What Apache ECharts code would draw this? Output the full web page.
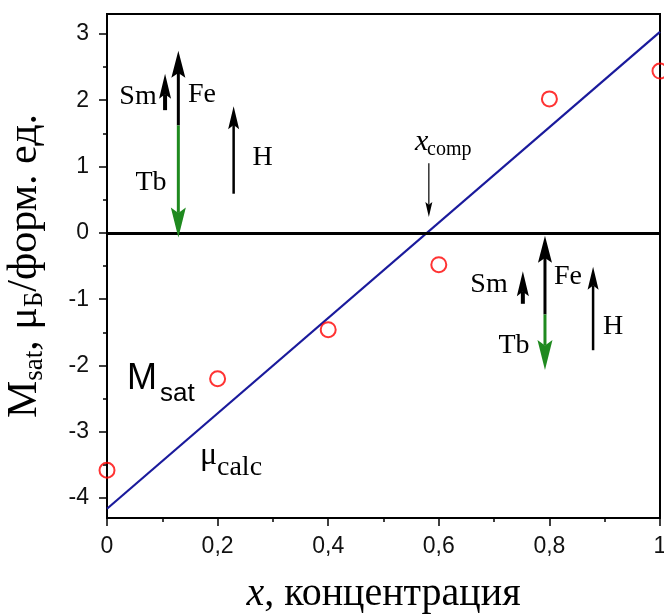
<!DOCTYPE html>
<html><head><meta charset="utf-8">
<script src="https://cdn.jsdelivr.net/npm/echarts@6/dist/echarts.min.js"></script>
<style>html,body{margin:0;padding:0;background:#fff}#chart{width:664px;height:616px}</style>
</head><body><div id="chart"></div>
<script>
// Concentration and measured saturation magnetisation (μB per formula unit)
const concX = [0, 0.2, 0.4, 0.6, 0.8, 1.0];
const msatY = [-3.58, -2.20, -1.46, -0.48, 2.02, 2.44];

// Calculated moment, a straight line across the range
const calcX = [0, 1];
const calcY = [-4.16, 3.03];

// Sublattice moment arrows: x position, tail value, tip value, kind
const momentX    = [0.129, 0.129, 0.105, 0.229, 0.792, 0.792, 0.752, 0.879, 0.582];
const momentFrom = [1.62, 1.62, 1.85, 0.59, -1.23, -1.23, -1.07, -1.77, 1.05];
const momentTo   = [2.745, -0.07, 2.40, 1.91, -0.045, -2.07, -0.58, -0.51, 0.24];
const momentKind = ['Fe', 'Tb', 'Sm', 'H', 'Fe', 'Tb', 'Sm', 'H', 'comp'];

// Major tick values on the moment axis
const yTicks = [-4, -3, -2, -1, 0, 1, 2, 3];

const serif = '"Liberation Serif", "Times New Roman", serif';
const sans = '"Liberation Sans", Arial, sans-serif';

const arrowStyle = {
  Fe:   { color: '#000000', width: 3,   headLen: 27, headW: 14 },
  Tb:   { color: '#1f8a1f', width: 3,   headLen: 30, headW: 15 },
  Sm:   { color: '#000000', width: 4,   headLen: 25, headW: 12 },
  H:    { color: '#000000', width: 2.5, headLen: 23, headW: 11 },
  comp: { color: '#000000', width: 1.2, headLen: 15, headW: 7 }
};

function renderArrow(params, api) {
  const st = arrowStyle[momentKind[params.dataIndex]];
  const x = api.value(0);
  const p0 = api.coord([x, api.value(1)]);
  const p1 = api.coord([x, api.value(2)]);
  const dir = p1[1] < p0[1] ? -1 : 1;
  const base = p1[1] - dir * st.headLen;
  const notch = p1[1] - dir * st.headLen * 0.82;
  return {
    type: 'group',
    children: [
      { type: 'line', shape: { x1: p0[0], y1: p0[1], x2: p1[0], y2: notch },
        style: { stroke: st.color, lineWidth: st.width } },
      { type: 'polygon',
        shape: { points: [[p1[0], p1[1]], [p1[0] + st.headW / 2, base], [p1[0], notch], [p1[0] - st.headW / 2, base]] },
        style: { fill: st.color } }
    ]
  };
}

function txt(text, x, y, font, align) {
  return { type: 'text', x: x, y: y, z: 100, silent: true,
    style: { text: text, font: font, fill: '#000', align: align || 'left', verticalAlign: 'middle' } };
}

const chart = echarts.init(document.getElementById('chart'), null, { renderer: 'canvas' });

const axisCommon = {
  axisLine: { onZero: false, lineStyle: { color: '#000', width: 2 } },
  axisTick: { length: 8, lineStyle: { color: '#000', width: 1.5 } },
  minorTick: { show: true, splitNumber: 2, length: 4, lineStyle: { color: '#000', width: 1.5 } },
  splitLine: { show: false },
  minorSplitLine: { show: false }
};

chart.setOption({
  animation: false,
  backgroundColor: '#ffffff',
  grid: { left: 107, right: 4, top: 14, bottom: 98, outerBoundsMode: 'none', containLabel: false,
    show: true, borderColor: '#000', borderWidth: 2, backgroundColor: 'transparent' },
  xAxis: Object.assign({}, axisCommon, {
    type: 'value', min: 0, max: 1, interval: 0.2,
    axisLabel: { margin: 17, fontFamily: sans, fontSize: 23, color: '#111',
      formatter: v => String(+(+v).toFixed(1)).replace('.', ',') },
    name: '{i|x}{n|, концентрация}', nameLocation: 'middle', nameGap: 56,
    nameTextStyle: { rich: {
      i: { fontFamily: serif, fontStyle: 'italic', fontSize: 40, color: '#000' },
      n: { fontFamily: serif, fontSize: 40, color: '#000' }
    } }
  }),
  yAxis: Object.assign({}, axisCommon, {
    type: 'value', min: -4.3, max: 3.3, splitNumber: 8,
    axisTick: { length: 8, customValues: yTicks, lineStyle: { color: '#000', width: 1.5 } },
    axisLabel: { customValues: yTicks, margin: 18,
      fontFamily: sans, fontSize: 23, color: '#111' },
    name: '{m|M}{s|sat}{m|, μ}{s|Б}{m|/форм. ед.}', nameLocation: 'middle', nameRotate: 90, nameGap: 59,
    nameTextStyle: { rich: {
      m: { fontFamily: serif, fontSize: 42, color: '#000' },
      s: { fontFamily: serif, fontSize: 27, color: '#000', padding: [20, 0, 0, 0] }
    } }
  }),
  series: [
    {
      type: 'line', name: 'calc', z: 3,
      data: calcX.map((x, i) => [x, calcY[i]]),
      showSymbol: false, symbol: 'none',
      lineStyle: { color: '#1a1a9c', width: 2.2 },
      markLine: { silent: true, symbol: 'none', label: { show: false },
        lineStyle: { color: '#000', width: 3, type: 'solid' }, data: [{ yAxis: 0 }] }
    },
    {
      type: 'scatter', name: 'Msat', z: 4, clip: false,
      data: concX.map((x, i) => [x, msatY[i]]),
      symbol: 'circle', symbolSize: 15,
      itemStyle: { color: 'rgba(255,255,255,0)', borderColor: '#ff0000', borderWidth: 2 }
    },
    {
      type: 'custom', name: 'moments', z: 5, clip: false,
      renderItem: renderArrow,
      encode: { x: 0, y: [1, 2] },
      data: momentX.map((x, i) => [x, momentFrom[i], momentTo[i]])
    }
  ],
  graphic: [
    txt('Sm', 138, 97, '28px ' + serif, 'center'),
    txt('Fe', 202, 95, '28px ' + serif, 'center'),
    txt('Tb', 151, 182.5, '28px ' + serif, 'center'),
    txt('H', 262.5, 158, '28px ' + serif, 'center'),
    txt('Sm', 489, 285, '28px ' + serif, 'center'),
    txt('Fe', 568, 277, '28px ' + serif, 'center'),
    txt('Tb', 514, 346, '28px ' + serif, 'center'),
    txt('H', 613, 327, '28px ' + serif, 'center'),
    txt('M', 127, 379.5, '36px ' + sans),
    txt('sat', 160, 394, '26px ' + sans),
    txt('μ', 200, 456, '32px ' + serif),
    txt('calc', 217, 467.5, '28px ' + serif),
    txt('x', 415, 142, 'italic 30px ' + serif),
    txt('comp', 427, 150, '20px ' + serif)
  ]
});
</script>
</body></html>
